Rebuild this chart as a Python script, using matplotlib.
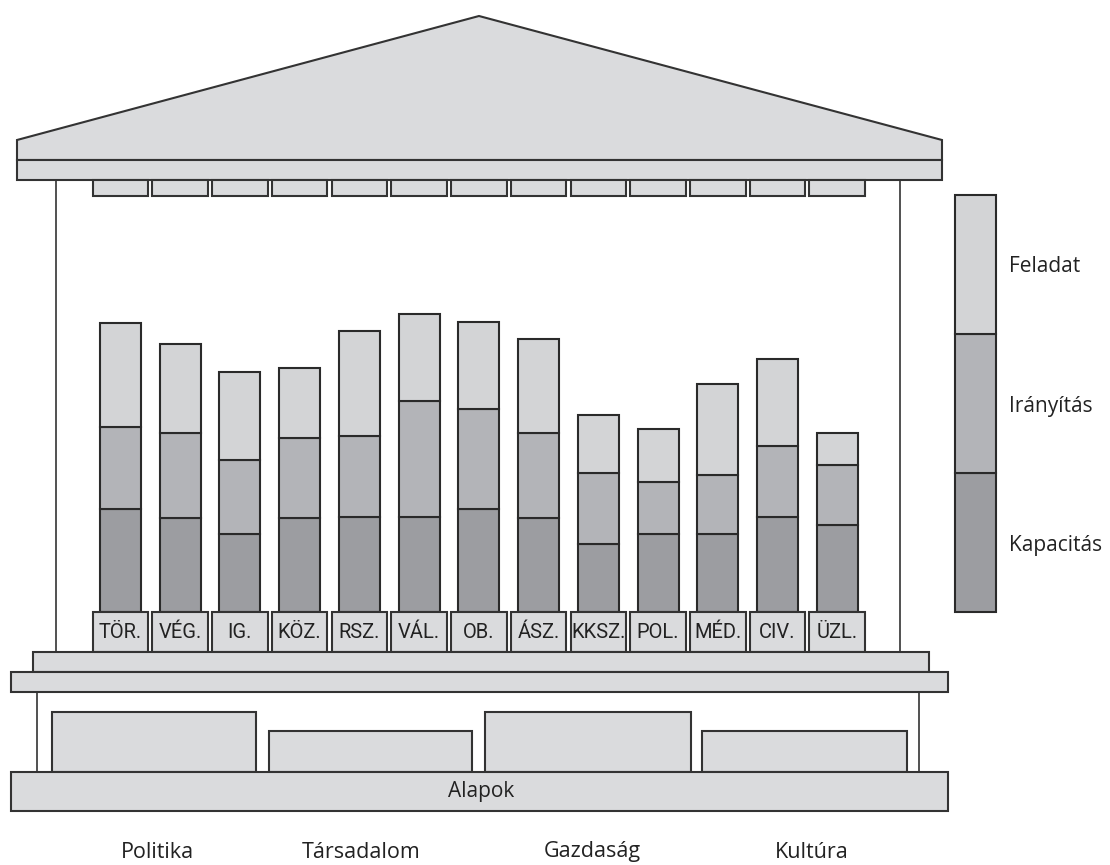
import matplotlib
matplotlib.use("Agg")
import matplotlib.pyplot as plt
from matplotlib.patches import Polygon, Rectangle

# ---------------- data ----------------
categories = ["TÖR.", "VÉG.", "IG.", "KÖZ.", "RSZ.", "VÁL.", "OB.",
              "ÁSZ.", "KKSZ.", "POL.", "MÉD.", "CIV.", "ÜZL."]
kapacitas = [103, 94, 78, 94, 95, 95, 103, 94, 68, 78, 78, 95, 87]
iranyitas = [82, 85, 74, 80, 81, 116, 100, 85, 71, 52, 59, 71, 60]
feladat = [104, 89, 88, 70, 105, 87, 87, 94, 58, 53, 91, 87, 32]
series_names = ["Kapacitás", "Irányítás", "Feladat"]
legend_segments = [139, 139, 139]
foundations = ["Politika", "Társadalom", "Gazdaság", "Kultúra"]
foundation_heights = [60, 41, 60, 41]
base_label = "Alapok"

# ---------------- style ----------------
W, H = 1110, 865
FILL = "#dadbdd"
EDGE = "#333333"
COLORS = ["#9c9da1", "#b3b4b8", "#d3d4d6"]
LW = 1.5
REG = ["Open Sans", "DejaVu Sans"]
NARROW = ["Liberation Sans Narrow", "Roboto", "DejaVu Sans"]


def Y(px):
    return H - px


fig = plt.figure(figsize=(W / 100, H / 100), dpi=100)
ax = fig.add_axes([0, 0, 1, 1])
ax.set_xlim(0, W)
ax.set_ylim(0, H)
ax.axis("off")


def rect(x0, x1, y0, y1, z=3, fc=FILL, lw=LW):
    ax.add_patch(Rectangle((x0, Y(y1)), x1 - x0, y1 - y0, facecolor=fc,
                           edgecolor=EDGE, linewidth=lw, zorder=z))


# roof
ax.add_patch(Polygon([(17, Y(140)), (479, Y(16)), (942, Y(140)),
                      (942, Y(160)), (17, Y(160))], closed=True,
                     facecolor=FILL, edgecolor=EDGE, linewidth=LW, zorder=3))
rect(17, 942, 160, 179.5)

# box positions (dentils + labels)
n = len(categories)
box_w = 55.5
step = 59.73
box_left = [92.7 + i * step for i in range(n)]
centers = [b + box_w / 2 for b in box_left]

for bl in box_left:
    rect(bl, bl + box_w, 179.5, 196)

# columns
for xc in (56, 900):
    ax.plot([xc, xc], [Y(179.5), Y(652)], color=EDGE, lw=1.2, zorder=1)
for xc in (36.7, 919):
    ax.plot([xc, xc], [Y(691.7), Y(771.7)], color=EDGE, lw=1.2, zorder=1)

# stacked bars
BASE = Y(612)
bottom = [BASE] * n
for vals, col in zip([kapacitas, iranyitas, feladat], COLORS):
    ax.bar(centers, vals, width=41, bottom=bottom, color=col,
           edgecolor="#2a2a2a", linewidth=LW, zorder=2)
    bottom = [b + v for b, v in zip(bottom, vals)]

# label boxes
for bl, lab in zip(box_left, categories):
    rect(bl, bl + box_w, 612, 652)
    ax.text(bl + box_w / 2, Y(632), lab, ha="center", va="center",
            fontsize=14.5, family=NARROW, color="#222222", zorder=5)

# steps
rect(32.7, 929, 652, 671.7)
rect(11, 948.3, 671.7, 691.7)

# foundations
f_left = [51.7, 269.3, 485, 701.7]
f_right = [256, 472.3, 691, 907.3]
f_bottom = Y(771.7)
ax.bar([(l + r) / 2 for l, r in zip(f_left, f_right)], foundation_heights,
       width=[r - l for l, r in zip(f_left, f_right)], bottom=f_bottom,
       color=FILL, edgecolor=EDGE, linewidth=LW, zorder=3)
rect(11, 948.3, 771.7, 811)
ax.text(481, Y(792), base_label, ha="center", va="center", fontsize=15,
        family=REG, color="#222222", zorder=5)

f_text_x = [157.5, 361, 592.8, 811.7]
for xt, lab in zip(f_text_x, foundations):
    ax.text(xt, Y(852), lab, ha="center", va="center", fontsize=15.5,
            family=REG, color="#222222")

# legend bar
lb = Y(612)
for v, col, name, ty in zip(legend_segments, COLORS, series_names,
                            [545, 406.7, 266.7]):
    ax.bar([975.4], [v], width=40.7, bottom=[lb], color=col,
           edgecolor="#2a2a2a", linewidth=LW, zorder=2)
    lb += v
    ax.text(1009, Y(ty), name, ha="left", va="center", fontsize=15,
            family=REG, color="#222222")

fig.savefig("out.png", dpi=100)
